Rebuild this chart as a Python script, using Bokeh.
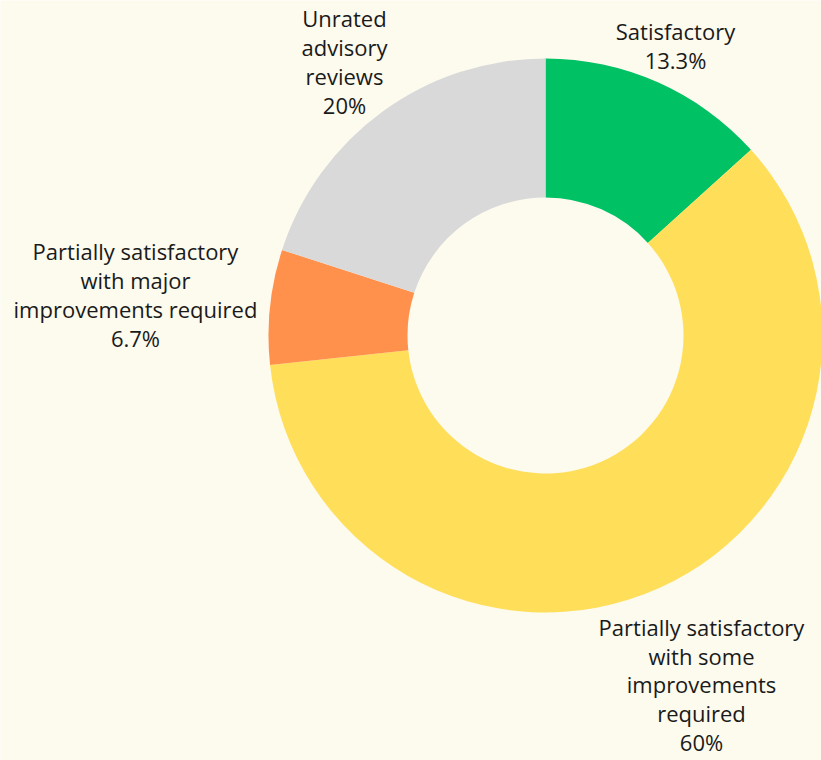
from bokeh.plotting import figure
from bokeh.models import Range1d, ColumnDataSource
from bokeh.core.properties import value
from bokeh.embed import file_html
from bokeh.resources import INLINE
import math

# ---- data ----
categories = ["Satisfactory",
              "Partially satisfactory\nwith some\nimprovements\nrequired",
              "Partially satisfactory\nwith major\nimprovements required",
              "Unrated\nadvisory\nreviews"]
shares = [13.3, 60.0, 6.7, 20.0]
pct_labels = ["13.3%", "60%", "6.7%", "20%"]
colors = ["#00C163", "#FFDE59", "#FF914D", "#D9D9D9"]

# ---- layout ----
W, H = 821, 760
BG = "#FDFAEE"
cx, cy = 545, H - 335
r_out, r_in = 277, 138
# label block centres (screen px)
label_pos = [(675, 45), (701, 684), (135, 294), (344, 61)]

total = sum(shares)
starts, ends = [], []
acc = 0.0
for s in shares:
    starts.append(math.pi / 2 - 2 * math.pi * acc / total)
    acc += s
    ends.append(math.pi / 2 - 2 * math.pi * acc / total)

src = ColumnDataSource(dict(start=starts, end=ends, color=colors))

p = figure(width=W, height=H, output_backend="svg", toolbar_location=None,
           x_range=Range1d(0, W), y_range=Range1d(0, H), min_border=0,
           background_fill_color=BG, border_fill_color=BG)
p.axis.visible = False
p.grid.visible = False
p.outline_line_color = None

p.annular_wedge(x=cx, y=cy, inner_radius=r_in, outer_radius=r_out,
                start_angle="start", end_angle="end", direction="clock",
                color="color", line_color=None, source=src)

texts = [c + "\n" + l for c, l in zip(categories, pct_labels)]
lsrc = ColumnDataSource(dict(x=[lp[0] for lp in label_pos],
                             y=[H - lp[1] for lp in label_pos],
                             text=texts))
p.text(x="x", y="y", text="text", source=lsrc, text_align="center",
       text_baseline="middle", text_font=value("Open Sans"),
       text_font_size="22px", text_color="#1a1a1a", text_line_height=0.96)

open("out.html", "w").write(file_html(p, INLINE))
